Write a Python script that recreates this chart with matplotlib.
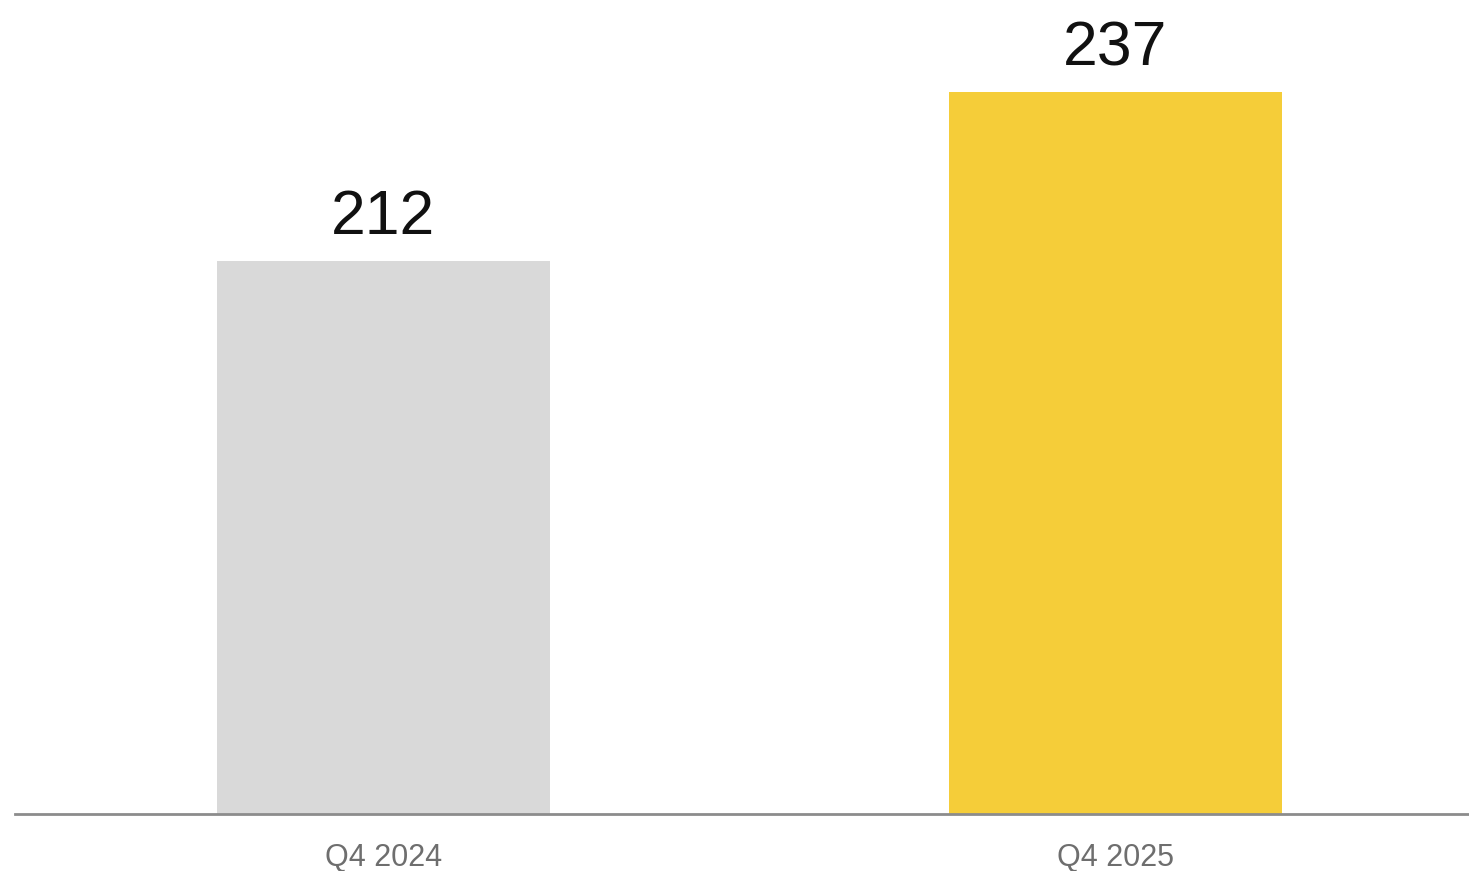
import matplotlib
matplotlib.use("Agg")
import matplotlib.pyplot as plt

categories = ["Q4 2024", "Q4 2025"]
values = [212, 237]
bar_colors = ["#d9d9d9", "#f5cd39"]

plt.rcParams["font.family"] = ["Liberation Sans", "DejaVu Sans"]

fig = plt.figure(figsize=(14.69, 8.71), dpi=100)
ax = fig.add_axes([0.0102, 0.0654, 0.9898, 0.9346])

x = list(range(len(categories)))
bars = ax.bar(x, values, width=0.455, color=bar_colors, zorder=2)

for xi, v in zip(x, values):
    ax.annotate(str(v), xy=(xi, v), xytext=(0, 10), textcoords="offset points",
                ha="center", va="bottom", fontsize=45, color="#111111")

ax.set_xlim(-0.503, 1.483)
ax.set_ylim(130.2, 250.6)

for side in ["top", "right", "left"]:
    ax.spines[side].set_visible(False)
ax.spines["bottom"].set_color("#8c8c8c")
ax.spines["bottom"].set_linewidth(2)
ax.spines["bottom"].set_zorder(3)

ax.set_yticks([])
ax.set_xticks(x)
ax.set_xticklabels(categories, fontsize=22, color="#6e6e6e")
ax.tick_params(axis="x", length=0, pad=21)

fig.savefig("out.png", dpi=100, facecolor="white")
